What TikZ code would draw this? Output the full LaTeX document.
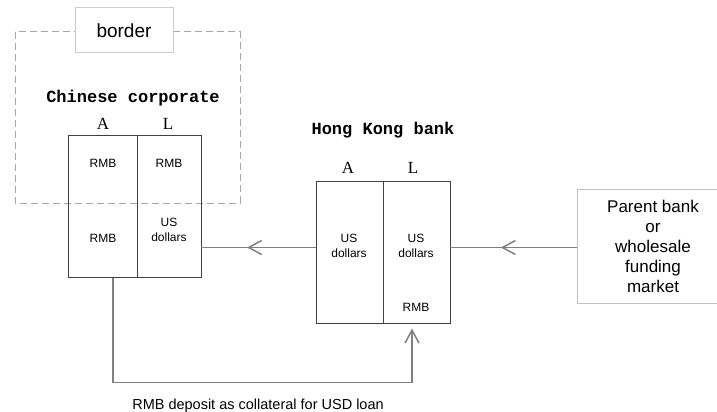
\documentclass[tikz,border=0pt]{standalone}
\usepackage{fontspec}
\setmainfont{Liberation Sans}
\newfontfamily\headfont{Liberation Mono}
\newfontfamily\sidefont{Liberation Serif}
\usetikzlibrary{arrows.meta,decorations.markings}

\begin{document}
\begin{tikzpicture}[x=1pt,y=-1pt,
	sheet/.style={draw=black!75,line width=0.9pt,minimum height=142pt,inner sep=0pt},
	cell/.style={font=\fontsize{12}{15}\selectfont,align=center},
	side/.style={font=\sidefont\fontsize{17}{20}\selectfont},
	head/.style={font=\headfont\bfseries\fontsize{17}{20}\selectfont},
	conn/.style={draw=black!50,line width=1.5pt},
	midarrow/.style={postaction={decorate,decoration={markings,
		mark=at position 0.6 with {\arrow[black!50,line width=1.5pt]{Straight Barb[length=13pt,width=14pt]}}}}}]
			\useasboundingbox (0,0) rectangle (717,412);
			% border of the mainland
			\draw[black!35,line width=1pt,dashed,dash pattern=on 7pt off 4pt] (15,32) rectangle (240,203);
			\node[draw=black!20,fill=white,line width=1pt,minimum width=98pt,minimum height=45pt,font=\fontsize{19}{22}\selectfont] (border) at (124,30.5) {border};
			% Chinese corporate
			\node[head] (cchead) at (133,98) {Chinese corporate};
			\node[sheet,minimum width=69pt] (ccA) at (102.5,206.5) {};
			\node[sheet,minimum width=64pt] (ccL) at (169,206.5) {};
			\node[side] (ccAlab) at (103,124) {A};
			\node[side] (ccLlab) at (168,124) {L};
			\node[cell] (ccA1) at (103,163) {RMB};
			\node[cell] (ccL1) at (169,163) {RMB};
			\node[cell] (ccA2) at (103,238) {RMB};
			\node[cell] (ccL2) at (169,230) {US\\dollars};
			% Hong Kong bank
			\node[head] (hkhead) at (383,130) {Hong Kong bank};
			\node[sheet,minimum width=67pt] (hkA) at (349.5,252.5) {};
			\node[sheet,minimum width=67pt] (hkL) at (416.5,252.5) {};
			\node[side] (hkAlab) at (348,168) {A};
			\node[side] (hkLlab) at (413,168) {L};
			\node[cell] (hkA1) at (349,245.5) {US\\dollars};
			\node[cell] (hkL1) at (416,245.5) {US\\dollars};
			\node[cell] (hkL2) at (416,307) {RMB};
			% funding
			\node[draw=black!25,line width=1pt,minimum width=152pt,minimum height=114pt,align=center,
				font=\fontsize{17}{20}\selectfont] (parent) at (653,246) {Parent bank\\or\\wholesale\\funding\\market};
			% flows
			\draw[conn,midarrow] (parent.west |- 0,247.5) -- (hkL.east |- 0,247.5);
			\draw[conn,midarrow] (hkA.west |- 0,247.5) -- (ccL.east |- 0,247.5);
			\coordinate (dep) at (113,278);
			\coordinate (col) at (412,323.5);
			\draw[conn,-{Straight Barb[length=13pt,width=14pt]},shorten >=5pt] (dep) -- (113,382.5) -| (col);
			\node[font=\fontsize{14.5}{17}\selectfont] (collab) at (258,406) {RMB deposit as collateral for USD loan};
			\end{tikzpicture}
\end{document}
